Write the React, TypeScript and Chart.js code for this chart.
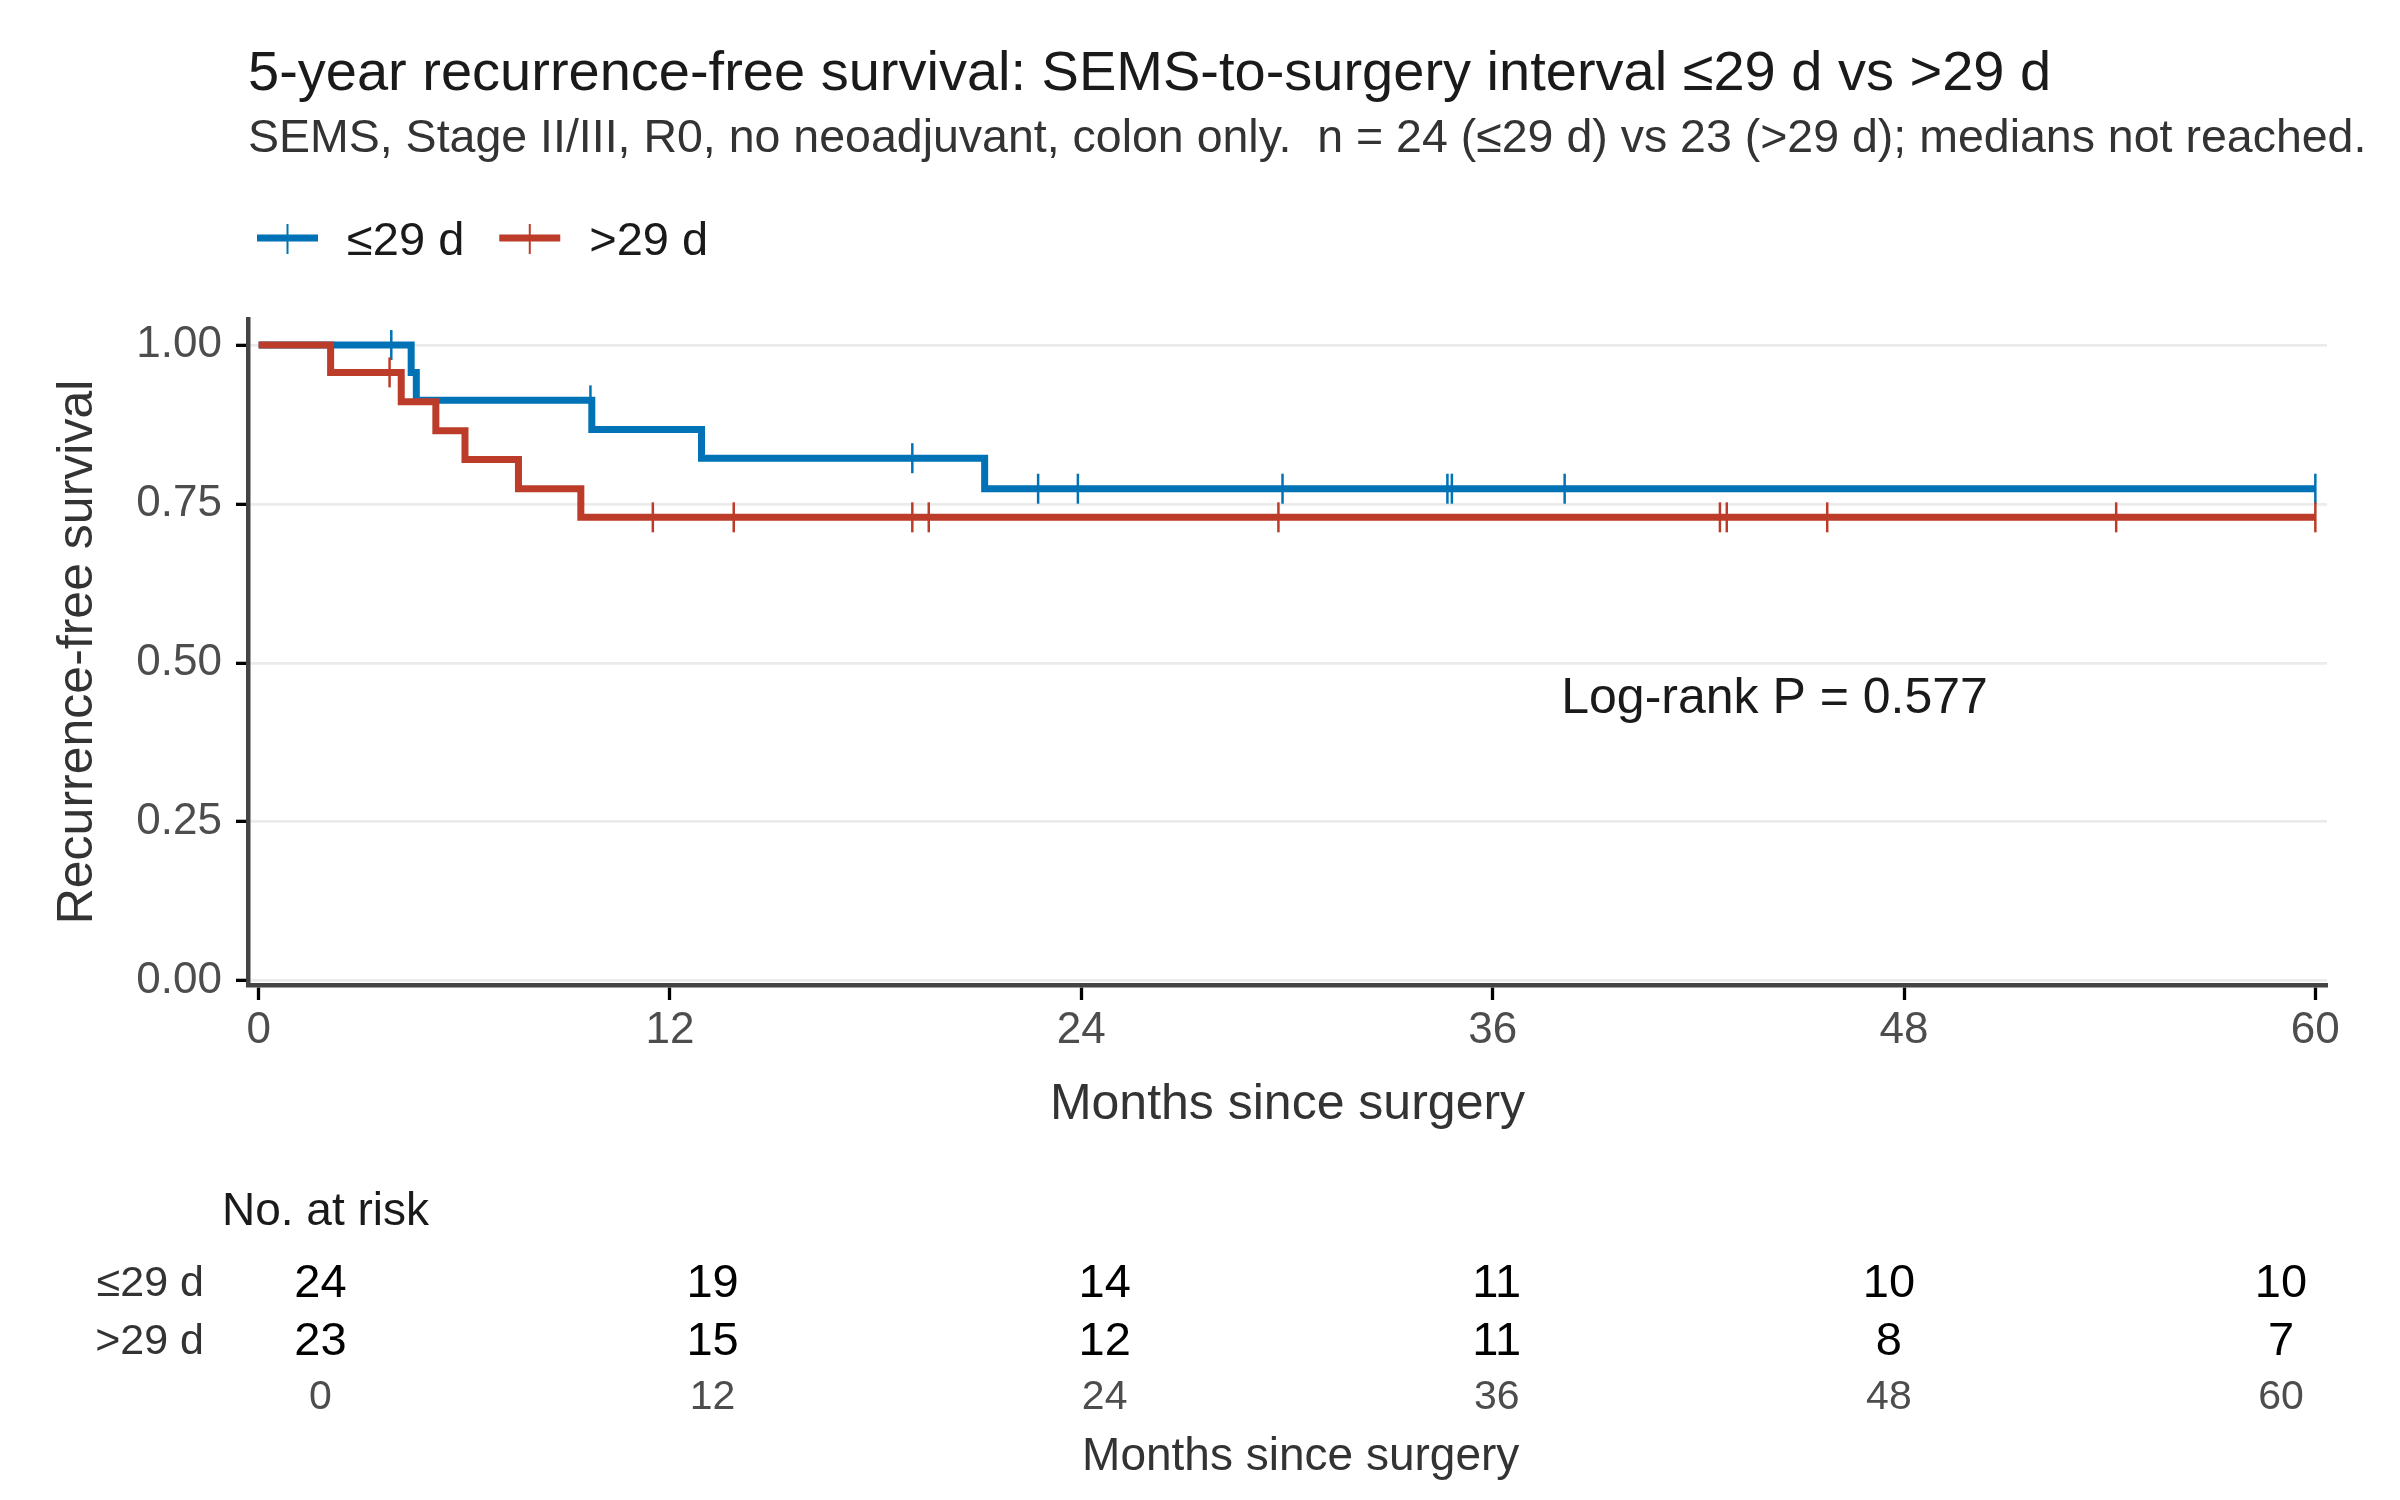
import { useEffect, useRef } from "react"
import { Chart, registerables } from "chart.js"

Chart.register(...registerables)

const FONT = "'Liberation Sans', Arial, sans-serif"

const titleText = "5-year recurrence-free survival: SEMS-to-surgery interval ≤29 d vs >29 d"
const subtitleText =
  "SEMS, Stage II/III, R0, no neoadjuvant, colon only.  n = 24 (≤29 d) vs 23 (>29 d); medians not reached."
const pvalText = "Log-rank P = 0.577"

const seriesNames = ["≤29 d", ">29 d"]
const seriesColors = ["#0072B5", "#BC3C29"]

// step curves: months, survival after the step
const shortTimes = [0, 4.45, 4.6, 9.72, 12.92, 21.18, 60]
const shortSurv = [1, 0.957, 0.913, 0.867, 0.822, 0.774, 0.774]
const longTimes = [0, 2.1, 4.16, 5.17, 6.02, 7.58, 9.4, 60]
const longSurv = [1, 0.957, 0.911, 0.865, 0.82, 0.774, 0.729, 0.729]

// censor marks
const shortCensorTimes = [3.87, 9.68, 19.07, 22.74, 23.9, 29.87, 34.68, 34.81, 38.1, 60]
const shortCensorSurv = [1, 0.913, 0.822, 0.774, 0.774, 0.774, 0.774, 0.774, 0.774, 0.774]
const longCensorTimes = [3.82, 11.5, 13.86, 19.07, 19.55, 29.75, 42.63, 42.83, 45.76, 54.19, 60]
const longCensorSurv = [0.957, 0.729, 0.729, 0.729, 0.729, 0.729, 0.729, 0.729, 0.729, 0.729, 0.729]

const xTicks = [0, 12, 24, 36, 48, 60]
const yTicks = [0, 0.25, 0.5, 0.75, 1]

// number at risk at each x tick
const riskShort = [24, 19, 14, 11, 10, 10]
const riskLong = [23, 15, 12, 11, 8, 7]

const pvalX = 38
const pvalY = 0.45

const toPoints = (xs: number[], ys: number[]) => xs.map((x, i) => ({ x, y: ys[i] }))

export default function App() {
  const topRef = useRef<HTMLCanvasElement>(null)
  const riskRef = useRef<HTMLCanvasElement>(null)
  const topChart = useRef<Chart | null>(null)
  const riskChart = useRef<Chart | null>(null)

  useEffect(() => {
    document.body.style.margin = "0"
    document.body.style.background = "#fff"
    Chart.defaults.font.family = FONT

    const decor = {
      id: "decor",
      afterDraw(chart: any) {
        const ctx = chart.ctx
        const left = chart.chartArea.left
        ctx.save()
        ctx.textBaseline = "alphabetic"
        ctx.textAlign = "left"
        ctx.fillStyle = "#1a1a1a"
        ctx.font = `56px ${FONT}`
        ctx.fillText(titleText, left, 90)
        ctx.fillStyle = "#333"
        ctx.font = `46.5px ${FONT}`
        ctx.fillText(subtitleText, left, 152)

        // legend
        let x = 257
        ctx.font = `47px ${FONT}`
        seriesNames.forEach((name, i) => {
          ctx.strokeStyle = seriesColors[i]
          ctx.lineWidth = 7
          ctx.beginPath()
          ctx.moveTo(x, 238)
          ctx.lineTo(x + 61, 238)
          ctx.stroke()
          ctx.lineWidth = 2
          ctx.beginPath()
          ctx.moveTo(x + 30.5, 224)
          ctx.lineTo(x + 30.5, 254)
          ctx.stroke()
          ctx.fillStyle = "#1a1a1a"
          ctx.fillText(name, x + 90, 255)
          x += 90 + ctx.measureText(name).width + 35
        })

        // p value
        const xs = chart.scales.x
        const ys = chart.scales.y
        ctx.font = `50px ${FONT}`
        ctx.fillStyle = "#1a1a1a"
        ctx.fillText(pvalText, xs.getPixelForValue(pvalX), ys.getPixelForValue(pvalY) + 18)
        ctx.restore()
      },
    }

    const riskText = {
      id: "riskText",
      afterDraw(chart: any) {
        const ctx = chart.ctx
        const xs = chart.scales.x
        const ys = chart.scales.y
        ctx.save()
        ctx.textBaseline = "alphabetic"
        ctx.textAlign = "left"
        ctx.fillStyle = "#1a1a1a"
        ctx.font = `46px ${FONT}`
        ctx.fillText("No. at risk", chart.chartArea.left + 8, 75)

        // row labels, right-aligned against the table area
        ctx.textAlign = "right"
        ctx.fillStyle = "#333"
        ctx.font = `43px ${FONT}`
        seriesNames.forEach((name, r) => {
          ctx.fillText(name, chart.chartArea.left - 10, ys.getPixelForValue(r) + 15.5)
        })

        ctx.textAlign = "center"
        ctx.fillStyle = "#000"
        ctx.font = `47px ${FONT}`
        ;[riskShort, riskLong].forEach((row, r) => {
          row.forEach((n, i) => {
            ctx.fillText(String(n), xs.getPixelForValue(xTicks[i]), ys.getPixelForValue(r) + 17)
          })
        })
        ctx.restore()
      },
    }

    if (topRef.current) {
      const ctx = topRef.current.getContext("2d")
      if (ctx) {
        if (topChart.current) topChart.current.destroy()
        topChart.current = new Chart(ctx, {
          type: "line",
          data: {
            datasets: [
              {
                label: seriesNames[0],
                data: toPoints(shortTimes, shortSurv),
                borderColor: seriesColors[0],
                borderWidth: 7,
                stepped: "before",
                pointRadius: 0,
                fill: false,
                order: 3,
              },
              {
                label: seriesNames[1],
                data: toPoints(longTimes, longSurv),
                borderColor: seriesColors[1],
                borderWidth: 7,
                stepped: "before",
                pointRadius: 0,
                fill: false,
                order: 2,
              },
              {
                type: "scatter",
                label: seriesNames[0] + " censored",
                data: toPoints(shortCensorTimes, shortCensorSurv),
                pointStyle: "line",
                pointRotation: 90,
                pointRadius: 15,
                pointBorderWidth: 2.5,
                pointBorderColor: seriesColors[0],
                showLine: false,
                order: 1,
              },
              {
                type: "scatter",
                label: seriesNames[1] + " censored",
                data: toPoints(longCensorTimes, longCensorSurv),
                pointStyle: "line",
                pointRotation: 90,
                pointRadius: 15,
                pointBorderWidth: 2.5,
                pointBorderColor: seriesColors[1],
                showLine: false,
                order: 0,
              },
            ] as any,
          },
          options: {
            responsive: false,
            animation: false,
            layout: { padding: { top: 319, right: 73, left: 0, bottom: 0 } },
            plugins: {
              legend: { display: false },
              tooltip: { enabled: false },
            },
            scales: {
              x: {
                type: "linear",
                min: -0.31,
                max: 60.34,
                afterBuildTicks: (s: any) => {
                  s.ticks = xTicks.map((value) => ({ value }))
                },
                afterFit: (s: any) => {
                  s.height = 165
                },
                grid: {
                  drawOnChartArea: false,
                  drawTicks: true,
                  tickLength: 15,
                  tickWidth: 3.3,
                  tickColor: "#000",
                },
                border: { color: "#444", width: 4.5 },
                ticks: { font: { size: 44 }, color: "#4d4d4d", padding: 4 },
                title: {
                  display: true,
                  text: "Months since surgery",
                  font: { size: 50 },
                  color: "#333",
                  padding: { bottom: 15 },
                },
              },
              y: {
                min: -0.0068,
                max: 1.041,
                afterBuildTicks: (s: any) => {
                  s.ticks = yTicks.map((value) => ({ value }))
                },
                afterFit: (s: any) => {
                  s.width = 248
                },
                grid: {
                  color: "#EBEBEB",
                  lineWidth: 2.7,
                  tickLength: 12,
                  tickWidth: 3.3,
                  tickColor: "#000",
                },
                border: { color: "#444", width: 4.5 },
                ticks: {
                  font: { size: 44 },
                  color: "#4d4d4d",
                  padding: 14,
                  callback: (v: any) => Number(v).toFixed(2),
                },
                title: {
                  display: true,
                  text: "Recurrence-free survival",
                  font: { size: 50 },
                  color: "#333",
                  padding: { top: 48 },
                },
              },
            },
          },
          plugins: [decor],
        })
      }
    }

    if (riskRef.current) {
      const ctx = riskRef.current.getContext("2d")
      if (ctx) {
        if (riskChart.current) riskChart.current.destroy()
        riskChart.current = new Chart(ctx, {
          type: "scatter",
          data: { datasets: [] },
          options: {
            responsive: false,
            animation: false,
            layout: { padding: { top: 101, right: 12.6, left: 0, bottom: 0 } },
            plugins: {
              legend: { display: false },
              tooltip: { enabled: false },
            },
            scales: {
              x: {
                type: "linear",
                min: -3.256,
                max: 63.256,
                afterBuildTicks: (s: any) => {
                  s.ticks = xTicks.map((value) => ({ value }))
                },
                afterFit: (s: any) => {
                  s.height = 133
                },
                grid: { display: false, drawTicks: false },
                border: { display: false },
                ticks: { font: { size: 41 }, color: "#4d4d4d", padding: 6 },
                title: {
                  display: true,
                  text: "Months since surgery",
                  font: { size: 46 },
                  color: "#333",
                  padding: { bottom: 15 },
                },
              },
              y: {
                type: "category",
                labels: seriesNames,
                offset: true,
                afterFit: (s: any) => {
                  s.width = 214
                },
                grid: { display: false, drawTicks: false },
                border: { display: false },
                ticks: { display: false },
              },
            },
          },
          plugins: [riskText],
        })
      }
    }

    return () => {
      if (topChart.current) {
        topChart.current.destroy()
        topChart.current = null
      }
      if (riskChart.current) {
        riskChart.current.destroy()
        riskChart.current = null
      }
    }
  }, [])

  return (
    <div style={{ position: "relative", width: 2400, height: 1500, background: "#fff", overflow: "hidden" }}>
      <canvas
        ref={topRef}
        width={2400}
        height={1150}
        style={{ position: "absolute", left: 0, top: 0, width: 2400, height: 1150 }}
        aria-label="Recurrence-free survival curves"
        role="img"
      ></canvas>
      <canvas
        ref={riskRef}
        width={2400}
        height={350}
        style={{ position: "absolute", left: 0, top: 1150, width: 2400, height: 350 }}
        aria-label="Number at risk table"
        role="img"
      ></canvas>
    </div>
  )
}
